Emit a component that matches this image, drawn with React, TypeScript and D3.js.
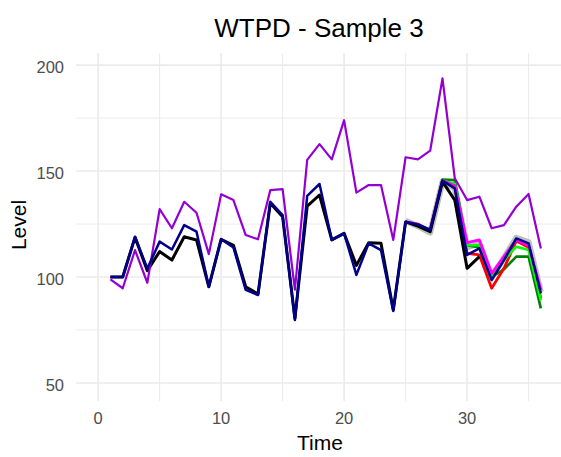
import React from 'react';
import * as d3 from 'd3';

const time = [1, 2, 3, 4, 5, 6, 7, 8, 9, 10, 11, 12, 13, 14, 15, 16, 17, 18, 19, 20, 21, 22, 23, 24, 25, 26, 27, 28, 29, 30, 31, 32, 33, 34, 35, 36];

// observed series (ends at t = 31)
const observed = [100, 100, 118.7, 103, 112, 108, 119, 117.5, 95.4, 117.8, 115, 95.4, 92, 134.8, 128.4, 80.5, 133.5, 138.7, 117.5, 120.6, 105.5, 116.2, 115.9, 84.4, 126, 124, 121.4, 145, 136.3, 104.1, 109.6];

const fitted = [100, 100, 119, 104, 116.7, 113, 124.5, 121.4, 95.4, 117.8, 114, 93.9, 91.5, 135.5, 129.2, 79.7, 138.3, 143.9, 117.5, 120.6, 101, 115.9, 112.7, 84, 126, 124.8, 122.2, 145.5, 141.8, 110.4, 113.5, 98.6, 108, 118.2, 115.9, 92.3];

const upper = [98.9, 94.7, 112.7, 97.3, 132, 123, 135.5, 130.3, 110.8, 139, 136.3, 119.8, 117.8, 141, 141.5, 94, 155.3, 162.7, 155.5, 174, 139.8, 143.4, 143.4, 117.5, 156.5, 155.5, 159.6, 193.7, 146.6, 136.3, 137.9, 123, 124.5, 133.2, 139.2, 113.5];

// forecast paths, t = 25..36
const forecastTime = [25, 26, 27, 28, 29, 30, 31, 32, 33, 34, 35, 36];
const fcGray = [126.5, 124, 121, 145, 142, 114, 116, 100, 109, 118.5, 116.5, 93];
const fcDarkGreen = [126, 124.8, 122.2, 146, 145.7, 115, 114, 100, 103.6, 109.6, 109.6, 85.2];
const fcRed = [126, 125, 122, 145.5, 143, 111.2, 110.4, 94.7, 104.1, 117, 114, 90];
const fcGreen = [126, 124.8, 122.2, 145.5, 144, 115, 115, 100.2, 108, 114.3, 112.7, 89];
const fcMagenta = [126, 124.8, 122.2, 145.5, 143, 116.2, 117.5, 101.7, 109.6, 117.5, 115, 93.9];

const xMajor = [0, 10, 20, 30];
const xMinor = [5, 15, 25, 35];
const yMajor = [50, 100, 150, 200];
const yMinor = [75, 125, 175];

export default function App() {
  const width = 561;
  const height = 457;
  const panel = { left: 76, right: 563, top: 53, bottom: 401 };

  const x = d3.scaleLinear().domain([-1.8, 37.8]).range([panel.left, panel.right]);
  const y = d3.scaleLinear().domain([41.5, 205.7]).range([panel.bottom, panel.top]);

  const line = d3
    .line<[number, number]>()
    .x((d) => x(d[0]))
    .y((d) => y(d[1]));

  const path = (ts: number[], vs: number[]) => line(vs.map((v, i) => [ts[i], v]) as [number, number][]) || '';

  const series = [
    { t: forecastTime, v: fcGray, color: '#bebebe', w: 6 },
    { t: forecastTime, v: fcDarkGreen, color: '#008000', w: 2.6 },
    { t: forecastTime, v: fcRed, color: '#ff0000', w: 2.8 },
    { t: forecastTime, v: fcGreen, color: '#00ff00', w: 2.6 },
    { t: forecastTime, v: fcMagenta, color: '#ff00ff', w: 2.8 },
    { t: time, v: observed, color: '#000000', w: 3 },
    { t: time, v: upper, color: '#9400d3', w: 2.2 },
    { t: time, v: fitted, color: '#00008b', w: 2.5 },
  ];

  const font = 'Arial, "Liberation Sans", sans-serif';

  return (
    <svg width={width} height={height} style={{ position: 'absolute', left: 0, top: 0, background: '#fff' }}>
      <rect width={width} height={height} fill="#fff" />
      <defs>
        <clipPath id="panel">
          <rect x={panel.left} y={panel.top} width={panel.right - panel.left} height={panel.bottom - panel.top} />
        </clipPath>
      </defs>
      <g clipPath="url(#panel)">
        {yMinor.map((v) => (
          <line key={'ym' + v} x1={panel.left} x2={panel.right} y1={y(v)} y2={y(v)} stroke="#ebebeb" strokeWidth={1} />
        ))}
        {xMinor.map((v) => (
          <line key={'xm' + v} x1={x(v)} x2={x(v)} y1={panel.top} y2={panel.bottom} stroke="#ebebeb" strokeWidth={1} />
        ))}
        {yMajor.map((v) => (
          <line key={'yM' + v} x1={panel.left} x2={panel.right} y1={y(v)} y2={y(v)} stroke="#ebebeb" strokeWidth={1.6} />
        ))}
        {xMajor.map((v) => (
          <line key={'xM' + v} x1={x(v)} x2={x(v)} y1={panel.top} y2={panel.bottom} stroke="#ebebeb" strokeWidth={1.6} />
        ))}
        {series.map((s, i) => (
          <path key={i} d={path(s.t, s.v)} fill="none" stroke={s.color} strokeWidth={s.w} strokeLinejoin="round" />
        ))}
      </g>
      {yMajor.map((v) => (
        <text key={'yl' + v} x={64} y={y(v) + 2} textAnchor="end" dominantBaseline="central" fontFamily={font} fontSize={16.5} fill="#4d4d4d">
          {v}
        </text>
      ))}
      {xMajor.map((v) => (
        <text key={'xl' + v} x={x(v)} y={418} textAnchor="middle" dominantBaseline="central" fontFamily={font} fontSize={16.5} fill="#4d4d4d">
          {v}
        </text>
      ))}
      <text x={320} y={450} textAnchor="middle" fontFamily={font} fontSize={21} fill="#000">
        Time
      </text>
      <text transform="translate(26,225) rotate(-90)" textAnchor="middle" fontFamily={font} fontSize={21} fill="#000">
        Level
      </text>
      <text x={319} y={37} textAnchor="middle" fontFamily={font} fontSize={26} fill="#000">
        WTPD - Sample 3
      </text>
    </svg>
  );
}
